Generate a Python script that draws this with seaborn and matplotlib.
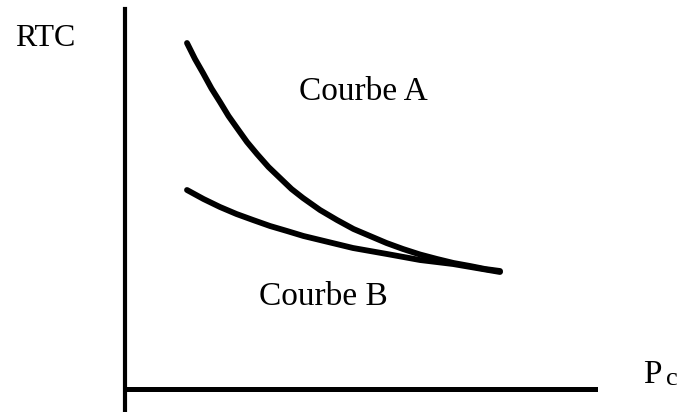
import matplotlib
matplotlib.use("Agg")
import matplotlib.pyplot as plt
import seaborn as sns
import pandas as pd

# Data (Pc, RTC), origin at the axes corner
pc_a = [62, 70, 78, 86.5, 95, 103.5, 112, 122, 132, 143.5, 155, 166.5, 178,
        195, 212, 228.5, 245, 261.5, 278, 295, 312, 328.5, 345, 360, 375]
rtc_a = [346, 330, 316, 300.5, 287, 273, 261, 247, 235, 222, 211, 200, 191,
         179, 169, 160, 153, 146, 140, 134.5, 130, 126, 123, 120, 118]
pc_b = [62, 78.5, 95, 111.5, 128, 145, 162, 178.5, 195, 211.5, 228, 245, 262,
        278.5, 295, 311.5, 328, 351.5, 375]
rtc_b = [199, 190, 182, 175, 169, 163, 158, 153, 149, 145, 141, 138, 135,
         132, 129, 127, 125, 121, 117]

label_a = "Courbe A"
label_b = "Courbe B"
y_label = "RTC"
x_label = "P"
x_sub = "c"

sns.set_theme(style="white")
plt.rcParams["font.family"] = ["Liberation Serif", "DejaVu Serif"]

fig = plt.figure(figsize=(6.79, 4.12), dpi=100)
ax = fig.add_axes([0, 0, 1, 1])
ax.set_xlim(-125, 554)
ax.set_ylim(-23, 389)

df_a = pd.DataFrame({"Pc": pc_a, "RTC": rtc_a})
df_b = pd.DataFrame({"Pc": pc_b, "RTC": rtc_b})
sns.lineplot(data=df_a, x="Pc", y="RTC", sort=False, color="black", lw=4.2,
             ax=ax, solid_capstyle="round", solid_joinstyle="round")
sns.lineplot(data=df_b, x="Pc", y="RTC", sort=False, color="black", lw=4.2,
             ax=ax, solid_capstyle="round", solid_joinstyle="round")

for s in ["top", "right"]:
    ax.spines[s].set_visible(False)
ax.spines["left"].set_position(("data", 0))
ax.spines["bottom"].set_position(("data", 0))
ax.spines["left"].set_bounds(-23, 380)
ax.spines["bottom"].set_bounds(2, 470)
ax.spines["left"].set_linewidth(3)
ax.spines["bottom"].set_linewidth(3.6)
ax.spines["left"].set_color("black")
ax.spines["bottom"].set_color("black")
ax.set_xticks([])
ax.set_yticks([])
ax.set_xlabel("")
ax.set_ylabel("")

ax.text(-80, 343, y_label, fontsize=23, ha="center", va="baseline", color="black")
ax.text(238, 289, label_a, fontsize=24, ha="center", va="baseline", color="black")
ax.text(198, 84, label_b, fontsize=24, ha="center", va="baseline", color="black")
ax.text(518, 6, x_label, fontsize=24, ha="left", va="baseline", color="black")
ax.text(541, 4, x_sub, fontsize=19, ha="left", va="baseline", color="black")

fig.savefig("out.png", dpi=100)
